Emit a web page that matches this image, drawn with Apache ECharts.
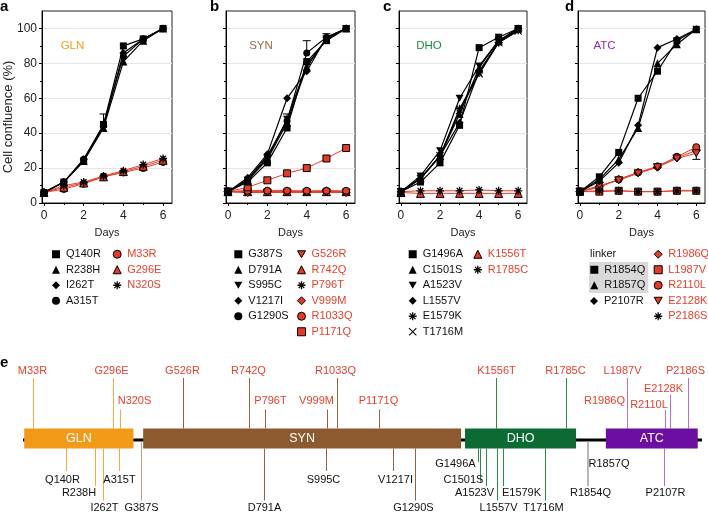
<!DOCTYPE html>
<html><head><meta charset="utf-8">
<script src="https://cdn.jsdelivr.net/npm/echarts@6/dist/echarts.min.js"></script>
<style>html,body{margin:0;padding:0;background:#fff}#c{width:708px;height:513px}</style>
</head><body><div id="c"></div>
<script>
// ---------------- data ----------------
const days = [0, 1, 2, 3, 4, 5, 6];
const xTicks = [0, 2, 4, 6];
const xMinorTicks = [1, 3, 5];
const yTicks = [0, 20, 40, 60, 80, 100];
const yMinorTicks = [10, 30, 50, 70, 90];

// panel a (GLN)
const Q140R = [6, 12, 24, 45, 90, 94, 100];
const R238H = [6, 12, 24, 43, 81, 93, 100];
const I262T = [6, 12, 25, 44, 86, 94, 100];
const A315T = [6, 12, 25, 45, 84, 94, 100];
const M33R  = [6, 8, 11, 15, 17.5, 20, 23.5];
const G296E = [6, 9, 11.5, 15, 18, 21, 24.5];
const N320S = [6, 10, 12, 15.5, 18.5, 22, 25.5];
const errA = [[3, 45, 51]];

// panel b (SYN)
const G387S  = [6.5, 12, 23, 43, 81, 93, 100];
const D791A  = [6.5, 13, 25, 46, 78, 94, 100];
const S995C  = [6.5, 13, 26, 48, 79, 94, 100];
const V1217I = [6.5, 14.5, 28, 60, 75.5, 95, 100];
const G1290S = [6.5, 13.5, 27, 47, 86, 95, 100];
const G526R  = [6.5, 6, 6, 6, 6, 6, 6];
const R742Q  = [6.5, 6.5, 6.5, 6.5, 6.5, 6.5, 6.5];
const P796T  = [6.5, 7, 7, 7, 6.5, 7, 6.5];
const V999M  = [6.5, 6, 6.5, 6.5, 6.5, 6.5, 6];
const R1033Q = [6.5, 7, 7, 7, 7, 7, 7];
const P1171Q = [6.5, 9, 13, 17, 20, 25.5, 31.5];
const errB = [[3, 47, 51], [4, 86, 93], [5, 95, 97]];

// panel c (DHO)
const G1496A = [6.5, 12, 23, 44.5, 89, 95, 100];
const C1501S = [6.5, 14, 27, 51, 77.5, 93, 100];
const A1523V = [6.5, 15.5, 30, 60, 78.5, 93, 100];
const L1557V = [6.5, 14, 27, 46, 75.5, 92, 100];
const E1579K = [6.5, 14, 27, 54, 74.5, 92, 99];
const T1716M = [6.5, 14, 27, 53, 74, 92, 98.5];
const K1556T = [6, 5.5, 5.5, 5.5, 5.5, 5.5, 5.5];
const R1785C = [6.5, 7, 7, 7, 7.5, 7, 7];
const errC = [];

// panel d (ATC)
const R1854Q = [6.5, 15, 29, 60, 75.5, 93, 99.5];
const R1857Q = [6.5, 13.5, 25, 43, 80, 91, 99.5];
const P2107R = [6.5, 12.5, 23, 44.5, 89, 94, 99.5];
const R1986Q = [6.5, 9.5, 13.5, 17.5, 20.5, 26, 30];
const L1987V = [6.5, 6.5, 7, 6.5, 6.5, 7, 7];
const R2110L = [6.5, 9, 13.5, 17.5, 21, 26.5, 32];
const E2128K = [6.5, 10, 13, 17, 20.5, 25.5, 28.5];
const P2186S = [6.5, 7, 7, 6.5, 6.5, 7, 7];
const errD = [[6, 28.5, 25]];

// panel e (CAD domain map, residue numbers)
const domainNames = ['GLN', 'SYN', 'DHO', 'ATC'];
const domainStart = [4, 395, 1453, 1916];
const domainEnd = [363, 1440, 1818, 2218];
const backboneEnd = 2232;
const lossMutations = ['M33R','G296E','N320S','G526R','R742Q','P796T','V999M','R1033Q','P1171Q','K1556T','R1785C','R1986Q','L1987V','R2110L','E2128K','P2186S'];
const okMutations = ['Q140R','R238H','I262T','A315T','G387S','D791A','S995C','V1217I','G1290S','G1496A','C1501S','A1523V','L1557V','E1579K','T1716M','R1854Q','R1857Q','P2107R'];

// ---------------- styles / layout ----------------
const FONT = '"Liberation Sans", Arial, Helvetica, sans-serif';
const RED = '#e8402d';
const REDFILL = '#e63a25';
const SYM = {
  sq: 'rect', tri: 'triangle', dia: 'diamond', cir: 'circle',
  inv: 'path://M0,0L10,0L5,8.7Z',
  ast: 'path://M4.2,0H5.8V10H4.2Z M0,4.2H10V5.8H0Z M2.03,0.89L9.11,7.97L7.97,9.11L0.89,2.03Z M7.97,0.89L9.11,2.03L2.03,9.11L0.89,7.97Z',
  x: 'path://M1.06,0.2L9.8,8.94L8.94,9.8L0.2,1.06Z M8.94,0.2L9.8,1.06L1.06,9.8L0.2,8.94Z'
};
const SIZE = { sq: 7, tri: 8, dia: 8, cir: 7, inv: 8, ast: 8, x: 8 };

const panels = [
  { title: 'GLN', color: '#f4a019', box: [42, 130], err: errA,
    black: [['Q140R', Q140R, 'sq'], ['R238H', R238H, 'tri'], ['I262T', I262T, 'dia'], ['A315T', A315T, 'cir']],
    red: [['M33R', M33R, 'cir'], ['G296E', G296E, 'tri'], ['N320S', N320S, 'ast']] },
  { title: 'SYN', color: '#9c6b3f', box: [226, 129], err: errB,
    black: [['G387S', G387S, 'sq'], ['D791A', D791A, 'tri'], ['S995C', S995C, 'inv'], ['V1217I', V1217I, 'dia'], ['G1290S', G1290S, 'cir']],
    red: [['G526R', G526R, 'inv'], ['R742Q', R742Q, 'tri'], ['P796T', P796T, 'ast'], ['V999M', V999M, 'dia'], ['R1033Q', R1033Q, 'cir'], ['P1171Q', P1171Q, 'sq']] },
  { title: 'DHO', color: '#1a8a44', box: [399, 128], err: errC,
    black: [['G1496A', G1496A, 'sq'], ['C1501S', C1501S, 'tri'], ['A1523V', A1523V, 'inv'], ['L1557V', L1557V, 'dia'], ['E1579K', E1579K, 'ast'], ['T1716M', T1716M, 'x']],
    red: [['K1556T', K1556T, 'tri'], ['R1785C', R1785C, 'ast']] },
  { title: 'ATC', color: '#8a28cc', box: [578, 127], err: errD,
    black: [['R1854Q', R1854Q, 'sq'], ['R1857Q', R1857Q, 'tri'], ['P2107R', P2107R, 'dia']],
    red: [['R1986Q', R1986Q, 'dia'], ['L1987V', L1987V, 'sq'], ['R2110L', R2110L, 'cir'], ['E2128K', E2128K, 'inv'], ['P2186S', P2186S, 'ast']] }
];

// label layout for the domain map: [text level, dx px, stalk end level]
const labelLayout = {
  M33R: [6.75, -1, 6.05], G296E: [6.75, -2, 6.05], N320S: [3.8, 14, 2.9], G526R: [6.75, -1, 6.05],
  R742Q: [6.75, -1, 6.05], P796T: [3.8, 5, 2.9], V999M: [3.8, -11, 2.9], R1033Q: [6.75, -2, 6.05],
  P1171Q: [3.8, -1, 2.9], K1556T: [6.75, 0, 6.05], R1785C: [6.75, -1, 6.05], R1986Q: [3.75, -23, 2.7],
  L1987V: [6.75, -5, 6.05], R2110L: [3.35, -16.5, 2.85], E2128K: [5.0, -7, 4.4], P2186S: [6.75, -3, 6.05],
  Q140R: [-4.15, -4, -3.25], R238H: [-5.45, -16.5, -4.75], I262T: [-6.9, 1, -6.2], A315T: [-4.15, 0, -3.25],
  G387S: [-6.9, 0, -6.2], D791A: [-6.9, 0, -6.2], S995C: [-4.15, -3, -3.25], V1217I: [-4.15, 2, -3.25],
  G1290S: [-6.9, -2, -6.2], G1496A: [-2.55, -23, -2.35], C1501S: [-4.15, -17, -4.3], A1523V: [-5.45, -12, -4.75],
  L1557V: [-6.9, 1, -6.2], E1579K: [-5.45, 18, -4.75], T1716M: [-6.9, -2, -6.2], R1854Q: [-5.45, 3, -4.75],
  R1857Q: [-2.55, 20.5, -4.75], P2107R: [-5.45, 1, -4.75]
};
const domainFill = ['#f29a18', '#8c5a2e', '#0b6b33', '#6c0ea1'];
const stalkColor = ['#f6a93b', '#8e6644', '#2c8a50', '#b46ee0'];

// ---------------- build ----------------
const residue = n => parseInt(n.slice(1, -1), 10);
const grid = [], xAxis = [], yAxis = [], series = [], legend = [];

panels.forEach((p, i) => {
  const [L, W] = p.box;
  grid.push({ left: L, top: 11, width: W, height: 192, show: true, borderColor: '#222', borderWidth: 1, backgroundColor: 'transparent' });
  xAxis.push({ gridIndex: i, type: 'value', position: 'bottom', min: -0.1, max: 6.45,
    axisLine: { show: true, onZero: false, lineStyle: { color: '#000', width: 1 } },
    axisTick: { show: true, customValues: xTicks, length: 3, lineStyle: { color: '#000' } },
    axisLabel: { show: true, customValues: xTicks, margin: 7, fontSize: 12, color: '#222', fontFamily: FONT },
    splitLine: { show: false },
    name: 'Days', nameLocation: 'middle', nameGap: 24, nameTextStyle: { fontSize: 11, color: '#222', fontFamily: FONT } });
  xAxis.push({ gridIndex: i, type: 'value', position: 'bottom', min: -0.1, max: 6.45,
    axisLine: { show: false, onZero: false }, axisTick: { show: true, customValues: xMinorTicks, length: 2, lineStyle: { color: '#000' } },
    axisLabel: { show: false }, splitLine: { show: false } });
  yAxis.push({ gridIndex: i, type: 'value', position: 'left', min: 0, max: 110, interval: 20,
    axisLine: { show: true, onZero: false, lineStyle: { color: '#000', width: 1 } },
    axisTick: { show: true, customValues: yTicks, length: 3, lineStyle: { color: '#000' } },
    axisLabel: { show: i === 0, customValues: yTicks, margin: 5, fontSize: 12, color: '#222', fontFamily: FONT },
    splitLine: { show: true, lineStyle: { color: '#e6e6e6', width: 1 } } });
  yAxis.push({ gridIndex: i, type: 'value', position: 'left', min: 0, max: 110,
    axisLine: { show: false, onZero: false }, axisTick: { show: true, customValues: yMinorTicks, length: 2, lineStyle: { color: '#000' } },
    axisLabel: { show: false }, splitLine: { show: false } });

  const xi = 2 * i, yi = 2 * i;
  series.push({ type: 'custom', xAxisIndex: xi, yAxisIndex: yi, z: 1, silent: true,
    data: p.err.map(e => [e[0], e[1], e[2]]), encode: { x: 0, y: [1, 2] },
    renderItem: (params, api) => {
      const a = api.coord([api.value(0), api.value(1)]);
      const b = api.coord([api.value(0), api.value(2)]);
      return { type: 'group', children: [
        { type: 'line', shape: { x1: a[0], y1: a[1], x2: b[0], y2: b[1] }, style: { stroke: '#000', lineWidth: 1 } },
        { type: 'line', shape: { x1: b[0] - 4, y1: b[1], x2: b[0] + 4, y2: b[1] }, style: { stroke: '#000', lineWidth: 1 } }
      ] };
    } });
  p.red.forEach(([name, vals, s]) => {
    series.push({ type: 'line', name, xAxisIndex: xi, yAxisIndex: yi, z: 2,
      data: days.map((d, k) => [d, vals[k]]), symbol: SYM[s], symbolSize: SIZE[s], symbolKeepAspect: true,
      itemStyle: s === 'ast' ? { color: '#000' } : { color: REDFILL, borderColor: '#000', borderWidth: 1 },
      lineStyle: { color: RED, width: 1 }, emphasis: { disabled: true } });
  });
  p.black.forEach(([name, vals, s]) => {
    series.push({ type: 'line', name, xAxisIndex: xi, yAxisIndex: yi, z: 3,
      data: days.map((d, k) => [d, vals[k]]), symbol: SYM[s], symbolSize: SIZE[s], symbolKeepAspect: true,
      itemStyle: { color: '#000' }, lineStyle: { color: '#000', width: 1.2 }, emphasis: { disabled: true } });
  });
});

// legends
function legendItems(list, red) {
  return list.map(([name, , s]) => ({
    name, icon: SYM[s],
    textStyle: { color: red ? RED : '#111' },
    itemStyle: (red && s !== 'ast') ? { color: REDFILL, borderColor: '#000', borderWidth: 1 } : { color: '#000', borderWidth: 0 }
  }));
}
function addLegend(left, top, items, extra) {
  legend.push(Object.assign({ orient: 'vertical', left, top, padding: 0, itemGap: 0, itemWidth: 8, itemHeight: 8,
    selectedMode: false, symbolKeepAspect: true,
    textStyle: { fontSize: 11, fontFamily: FONT, lineHeight: 15.5, padding: [0, 0, 0, 1] },
    data: items }, extra || {}));
}
const LT = 246.5;
addLegend(52, LT, legendItems(panels[0].black, false));
addLegend(112.7, LT, legendItems(panels[0].red, true));
addLegend(234.3, LT, legendItems(panels[1].black, false));
addLegend(297, LT, legendItems(panels[1].red, true));
addLegend(408.7, LT, legendItems(panels[2].black, false));
addLegend(473.3, LT, legendItems(panels[2].red, true));
addLegend(589, 262, legendItems(panels[3].black.slice(0, 2), false), { padding: [0, 3, 0, 1.3], backgroundColor: '#d9d9d9' });
addLegend(590, 293.25, legendItems(panels[3].black.slice(2), false));
addLegend(653.7, LT, legendItems(panels[3].red, true));

// domain map grid
grid.push({ left: 23, width: 679, top: 345, height: 168, show: false });
xAxis.push({ gridIndex: 4, type: 'value', min: 0, max: backboneEnd, show: false });
yAxis.push({ gridIndex: 4, type: 'value', min: -7.45, max: 9.35, show: false });
const DX = 8, DY = 8;

series.push({ type: 'custom', xAxisIndex: DX, yAxisIndex: DY, z: 1, silent: true,
  data: [[0, 0]],
  renderItem: (params, api) => {
    const a = api.coord([0, -0.15]), b = api.coord([backboneEnd, -0.15]);
    return { type: 'line', shape: { x1: a[0], y1: a[1], x2: b[0], y2: b[1] }, style: { stroke: '#000', lineWidth: 3 } };
  } });

const allMuts = lossMutations.concat(okMutations);
function domainOf(pos) {
  for (let k = 0; k < domainStart.length; k++) if (pos >= domainStart[k] && pos <= domainEnd[k]) return k;
  return -1;
}
series.push({ type: 'custom', xAxisIndex: DX, yAxisIndex: DY, z: 2, silent: true,
  data: allMuts.map(n => [residue(n), 0]),
  renderItem: (params, api) => {
    const name = allMuts[params.dataIndex];
    const pos = residue(name);
    const loss = lossMutations.indexOf(name) >= 0;
    const lay = labelLayout[name];
    const dom = domainOf(pos);
    const color = dom >= 0 ? stalkColor[dom] : (pos < 394 ? '#c4a27e' : '#b8b8b8');
    const startLevel = dom >= 0 ? (loss ? 1 : -1) : -0.3;
    let x = api.coord([pos, 0])[0];
    x = Math.round(x) + 0.5;
    const y1 = api.coord([pos, startLevel])[1];
    const y2 = api.coord([pos, lay[2]])[1];
    const yt = api.coord([pos, lay[0]])[1];
    return { type: 'group', children: [
      { type: 'line', shape: { x1: x, y1, x2: x, y2 }, style: { stroke: color, lineWidth: 1 } },
      { type: 'text', style: { text: name, x: x + lay[1], y: yt, align: 'center', verticalAlign: 'middle',
        fill: loss ? RED : '#111', font: '11px ' + FONT } }
    ] };
  } });

series.push({ type: 'custom', xAxisIndex: DX, yAxisIndex: DY, z: 3, silent: true,
  data: domainStart.map((s, i) => [s, domainEnd[i]]),
  renderItem: (params, api) => {
    const i = params.dataIndex;
    const a = api.coord([domainStart[i], 1]), b = api.coord([domainEnd[i], -1]);
    return { type: 'group', children: [
      { type: 'rect', shape: { x: a[0], y: a[1], width: b[0] - a[0], height: b[1] - a[1] }, style: { fill: domainFill[i] } },
      { type: 'text', style: { text: domainNames[i], x: (a[0] + b[0]) / 2, y: (a[1] + b[1]) / 2, align: 'center', verticalAlign: 'middle', fill: '#fff', font: '12.5px ' + FONT } }
    ] };
  } });

// texts
const graphic = [];
const letters = [['a', 0, 7.5], ['b', 210, 7.5], ['c', 383, 7.5], ['d', 565, 7.5], ['e', 0, 363]];
letters.forEach(([t, x, y]) => graphic.push({ type: 'text', left: x, top: y - 8, style: { text: t, font: 'bold 15px ' + FONT, fill: '#000' } }));
panels.forEach((p, i) => {
  const cx = p.box[0] + 31;
  graphic.push({ type: 'text', x: [72.5, 261, 429, 604.5][i], y: 46, style: { text: p.title, align: 'center', verticalAlign: 'middle', font: '11.5px ' + FONT, fill: p.color } });
});
graphic.push({ type: 'text', x: 8, y: 117, rotation: Math.PI / 2, style: { text: 'Cell confluence (%)', align: 'center', verticalAlign: 'middle', font: '13px ' + FONT, fill: '#222' } });
graphic.push({ type: 'text', x: 590, y: 254.3, style: { text: 'linker', align: 'left', verticalAlign: 'middle', font: '11px ' + FONT, fill: '#111' } });

const chart = echarts.init(document.getElementById('c'));
chart.setOption({ animation: false, backgroundColor: '#fff', textStyle: { fontFamily: FONT },
  grid, xAxis, yAxis, series, legend, graphic });
</script></body></html>
